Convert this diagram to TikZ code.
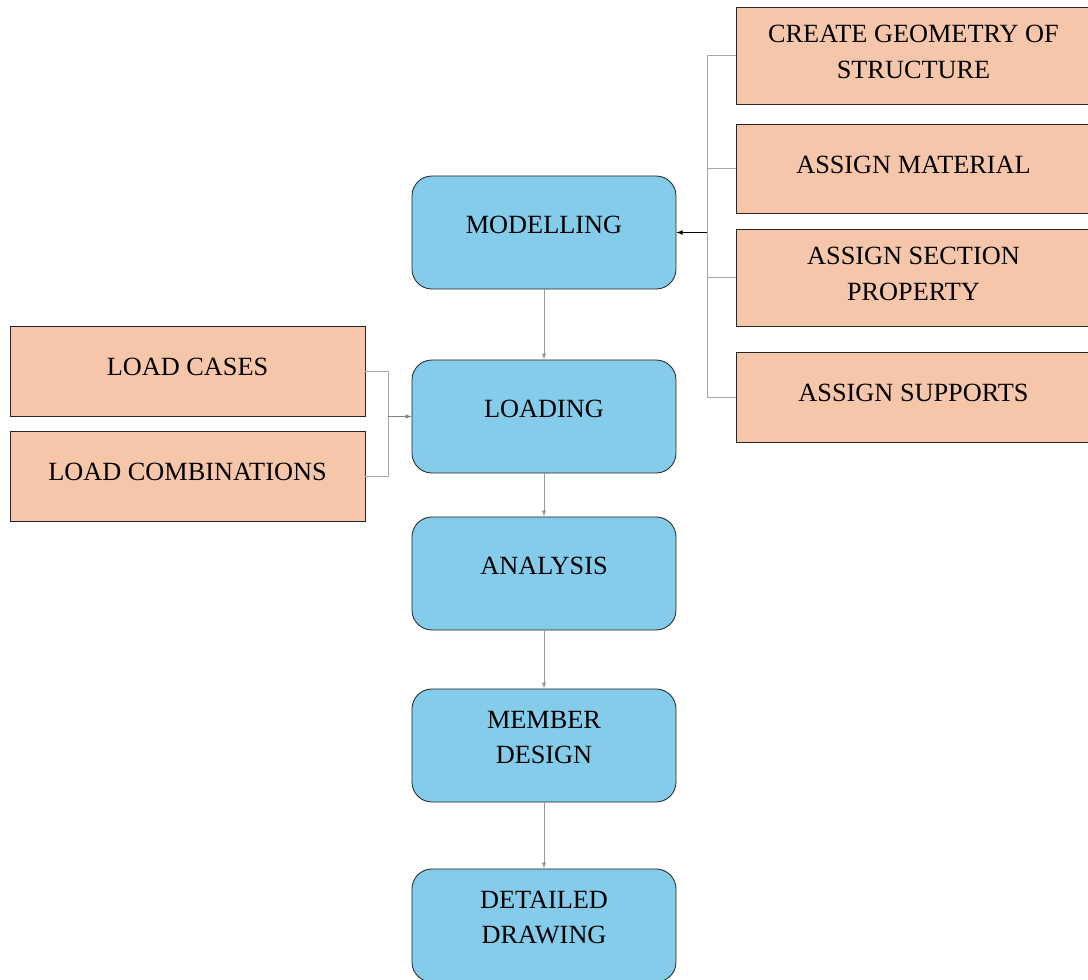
\documentclass[tikz,border=0pt]{standalone}
\usepackage{fontspec}
\setmainfont{Liberation Serif}

\definecolor{stageblue}{RGB}{133,203,234}
\definecolor{taskpeach}{RGB}{245,198,170}

\begin{document}
\begin{tikzpicture}[x=0.025cm,y=-0.025cm,
    boxtext/.style={align=center,font=\fontsize{18.7}{25.5}\selectfont},
    stage/.style={draw=black!85,line width=0.6pt,rounded corners=0.5cm,fill=stageblue,
        minimum width=6.6cm,minimum height=2.825cm,
        label={[boxtext,yshift=0.2cm]center:#1}},
    task/.style={draw=black!85,line width=0.6pt,fill=taskpeach,minimum width=8.85cm,
        label={[boxtext,yshift=0.1cm]center:#1}},
    link/.style={draw=black!35,line width=0.5pt},
    flow/.style={draw=black!40,line width=0.5pt,-latex}]
    \useasboundingbox (0,0) rectangle (1088,980);

    % main stages
    \node[stage=MODELLING] (model) at (544,232.5) {};
    \node[stage=LOADING] (load) at (544,416.5) {};
    \node[stage=ANALYSIS] (anal) at (544,573.5) {};
    \node[stage={MEMBER\\DESIGN}] (design) at (544,745.5) {};
    \node[stage={DETAILED\\DRAWING}] (detail) at (544,925.5) {};

    % modelling tasks
    \node[task={CREATE GEOMETRY OF\\STRUCTURE},minimum height=2.425cm] (geom) at (913.5,55.5) {};
    \node[task={ASSIGN MATERIAL},minimum height=2.225cm] (mat) at (913.5,168.5) {};
    \node[task={ASSIGN SECTION\\PROPERTY},minimum height=2.425cm] (sect) at (913.5,277.5) {};
    \node[task={ASSIGN SUPPORTS},minimum height=2.25cm] (supp) at (913.5,397) {};

    % loading tasks
    \node[task={LOAD CASES},minimum width=8.875cm,minimum height=2.25cm] (cases) at (187.5,371) {};
    \node[task={LOAD COMBINATIONS},minimum width=8.875cm,minimum height=2.25cm] (combos) at (187.5,476) {};

    \coordinate (jr) at (707,232.5);
    \coordinate (jl) at (388,416.5);

    \foreach \t in {geom,mat,sect,supp}
        \draw[link] (\t.west) -| (jr);
    \draw[-latex,line width=0.5pt] (jr) -- (model.east);

    \foreach \t in {cases,combos}
        \draw[link] (\t.east) -| (jl);
    \draw[-latex,draw=black!50,line width=0.5pt] (jl) -- (load.west);

    \draw[flow] (model) -- (load);
    \draw[flow] (load) -- (anal);
    \draw[flow] (anal) -- (design);
    \draw[flow] (design) -- (detail);
\end{tikzpicture}
\end{document}
